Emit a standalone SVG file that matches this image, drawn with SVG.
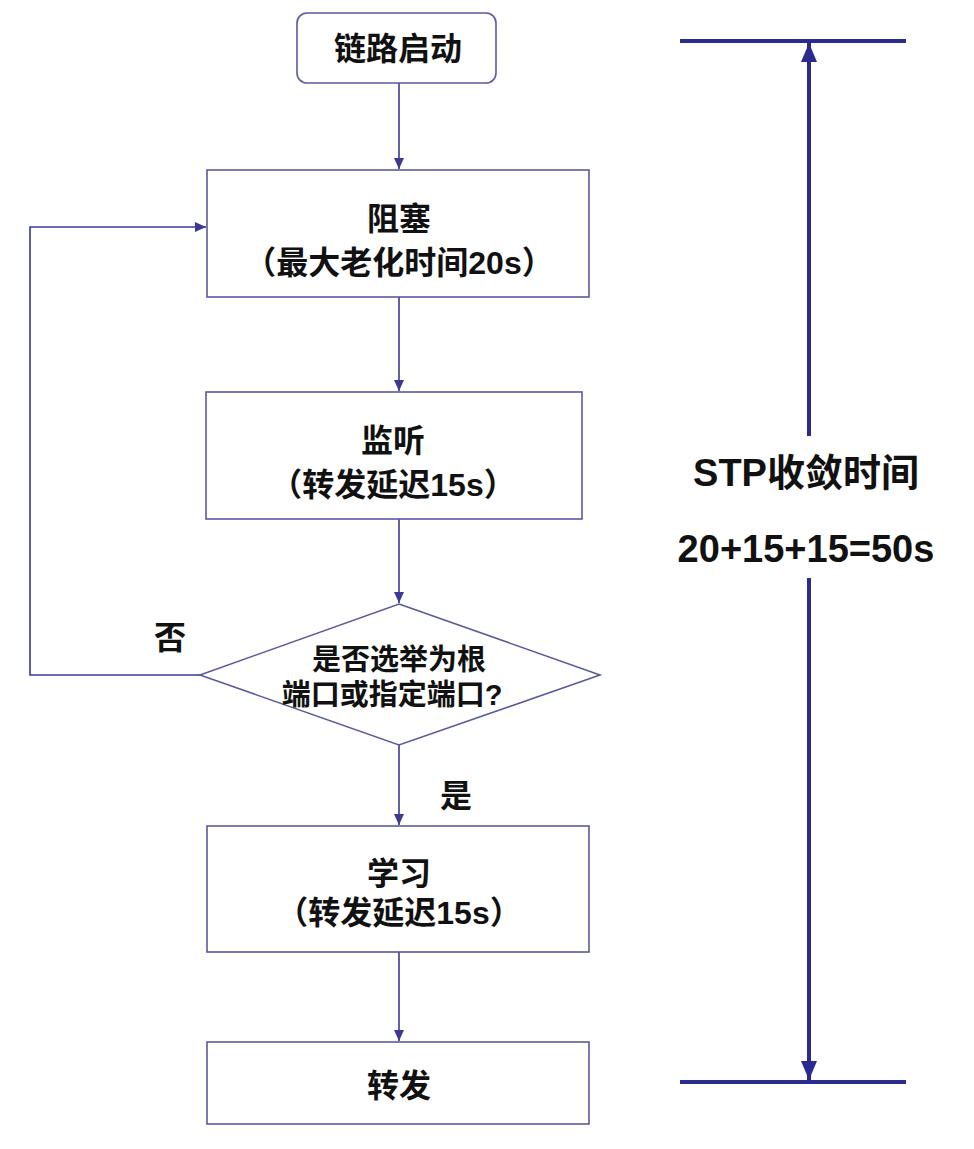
<svg xmlns="http://www.w3.org/2000/svg" width="974" height="1149" viewBox="0 0 974 1149">
<defs>
<style>
.box{fill:#fff;stroke:#5a5a9e;stroke-width:1.6}
.ln{fill:none;stroke:#3a3a96;stroke-width:1.6}
.big{fill:none;stroke:#2a2a90;stroke-width:4}
text{font-family:"Liberation Sans","Noto Sans CJK SC",sans-serif;fill:#111;text-anchor:middle;font-weight:bold}
.t{font-size:32px}
.d{font-size:29px}
.r{font-size:38px}
</style>
<marker id="ah" markerWidth="12" markerHeight="12" refX="11" refY="6" orient="auto" markerUnits="userSpaceOnUse">
<path d="M0,1 L11,6 L0,11 Z" fill="#3a3a96"/>
</marker>
<marker id="ahb" markerWidth="20" markerHeight="20" refX="19" refY="9" orient="auto" markerUnits="userSpaceOnUse">
<path d="M0,1 L19,9 L0,17 Z" fill="#2a2a90"/>
</marker>
</defs>
<rect width="974" height="1149" fill="#fff"/>
<g id="connectors">
<line class="ln" x1="399" y1="83" x2="399" y2="169" marker-end="url(#ah)"/>
<line class="ln" x1="399" y1="297" x2="399" y2="391" marker-end="url(#ah)"/>
<line class="ln" x1="399" y1="519" x2="399" y2="603" marker-end="url(#ah)"/>
<line class="ln" x1="399" y1="745" x2="399" y2="825" marker-end="url(#ah)"/>
<line class="ln" x1="399" y1="952" x2="399" y2="1041" marker-end="url(#ah)"/>
<polyline class="ln" points="200,675 30,675 30,227 206,227" marker-end="url(#ah)"/>
<text class="t" x="170" y="649">否</text>
<text class="t" x="456" y="807">是</text>
</g>
<g id="n1"><rect class="box" x="297" y="13" width="199" height="70" rx="10"/><text class="t" x="398" y="60">链路启动</text></g>
<g id="n2"><rect class="box" x="207" y="170" width="382" height="127"/><text class="t" x="399" y="230">阻塞</text><text class="t" x="399" y="274">（最大老化时间20s）</text></g>
<g id="n3"><rect class="box" x="206" y="392" width="376" height="127"/><text class="t" x="393" y="452">监听</text><text class="t" x="393" y="496">（转发延迟15s）</text></g>
<g id="n4"><polygon class="box" points="399,604 600,675 399,745 200,675"/><text class="d" x="399" y="670">是否选举为根</text><text class="d" x="392" y="705">端口或指定端口?</text></g>
<g id="n5"><rect class="box" x="207" y="826" width="382" height="126"/><text class="t" x="399" y="885">学习</text><text class="t" x="399" y="924">（转发延迟15s）</text></g>
<g id="n6"><rect class="box" x="207" y="1042" width="382" height="82"/><text class="t" x="399" y="1097">转发</text></g>
<g id="timeline">
<line class="big" x1="680" y1="41" x2="906" y2="41"/>
<line class="big" x1="680" y1="1082" x2="906" y2="1082"/>
<line class="big" x1="809" y1="436" x2="809" y2="43" marker-end="url(#ahb)"/>
<line class="big" x1="809" y1="578" x2="809" y2="1080" marker-end="url(#ahb)"/>
<text class="r" x="806" y="486">STP收敛时间</text>
<text class="r" x="806" y="562">20+15+15=50s</text>
</g>
</svg>
